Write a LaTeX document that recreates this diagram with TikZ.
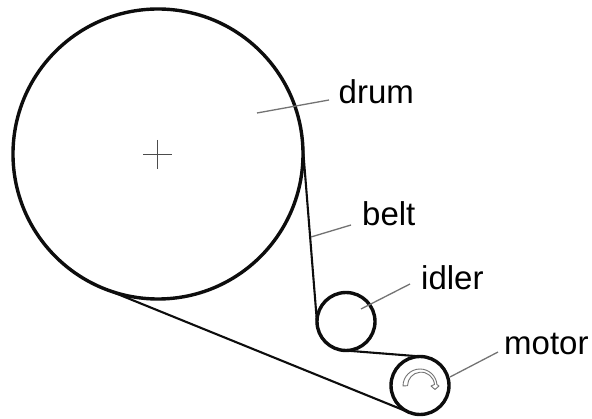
\documentclass[tikz,border=0pt]{standalone}
\usepackage{fontspec}
\setmainfont{Liberation Sans}
\begin{document}
\begin{tikzpicture}[x=1pt,y=-1pt,
  wheel/.style={circle,draw=black!95,line width=3.4pt,inner sep=0pt,outer sep=0pt},
  beltline/.style={draw=black!95,line width=2.1pt},
  leader/.style={draw=black!55,line width=1.3pt},
  lbl/.style={anchor=base west,inner sep=0pt,font=\fontsize{33}{36}\selectfont,text=black},
  hair/.style={draw=black!70,line width=1.2pt}]
\useasboundingbox (0,0) rectangle (592,419);
\node[wheel,minimum size=290pt] (drum) at (158,154) {};
\node[wheel,minimum size=58pt] (idler) at (346,321.5) {};
\node[wheel,minimum size=58pt] (motor) at (420,385.5) {};
\draw[beltline] (drum.4.5) -- (idler.184.5);
\draw[beltline] (idler.-93.8) -- (motor.86.2);
\draw[beltline] (drum.-112.2) -- (motor.-112.2);
% cross at drum centre
\draw[hair] (143,154.5) -- (172,154.5);
\draw[hair] (157.5,140) -- (157.5,169);
% labels and leaders
\node[lbl] (drumlbl) at (338.5,104) {drum};
\node[lbl] (beltlbl) at (362,226) {belt};
\node[lbl] (idlerlbl) at (421,290) {idler};
\node[lbl] (motorlbl) at (504,355) {motor};
\coordinate (d1) at (257,113);
\coordinate (d2) at (329,100);
\coordinate (b1) at (311,237);
\coordinate (b2) at (351,225);
\coordinate (i1) at (361,309);
\coordinate (i2) at (410,284);
\coordinate (m1) at (450,377);
\coordinate (m2) at (498,352);
\draw[leader] (d1) -- (d2);
\draw[leader] (b1) -- (b2);
\draw[leader] (i1) -- (i2);
\draw[leader] (m1) -- (m2);
% rotation arrow in motor
\draw[draw=black!55,fill=white,line width=.9pt,line join=round]
  (403,386) arc[start angle=180,end angle=355,radius=17]
  -- (439,386) -- (435,389.5) -- (431,386) -- (434.5,384.5)
  arc[start angle=355,end angle=180,radius=13.5] -- cycle;
\end{tikzpicture}
\end{document}
